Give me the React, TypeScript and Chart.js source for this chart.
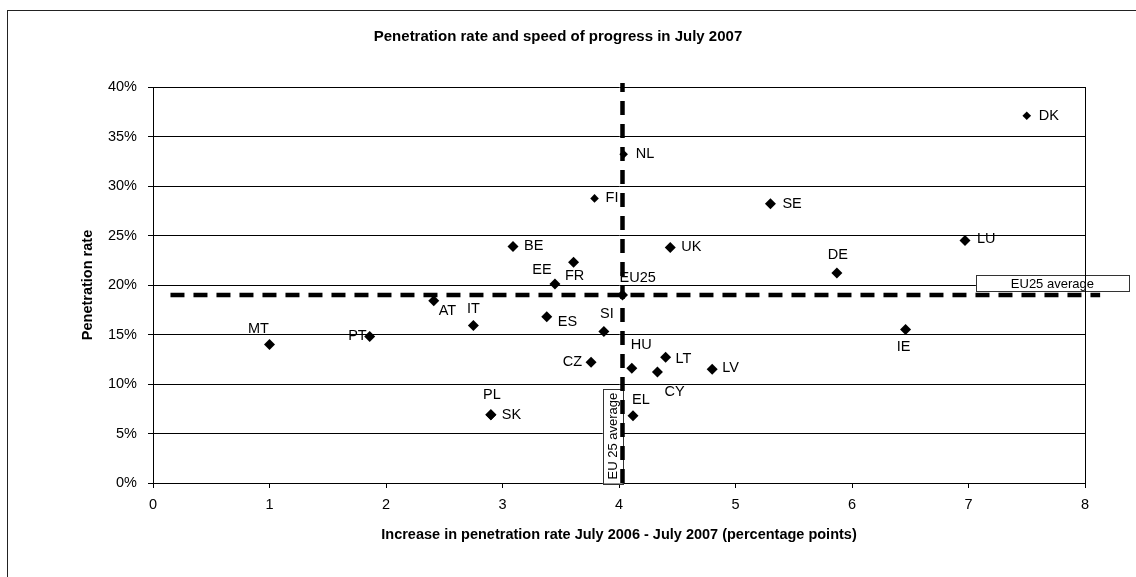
import { useEffect, useRef } from 'react';
import { Chart, registerables } from 'chart.js';

Chart.register(...registerables);

// ---- data ----
const countries = ['DK', 'NL', 'FI', 'SE', 'BE', 'UK', 'LU', 'DE', 'FR', 'EE', 'EU25', 'AT', 'IT', 'ES', 'SI', 'MT', 'PT', 'CZ', 'HU', 'LT', 'CY', 'LV', 'IE', 'PL', 'SK', 'EL'];
const increase = [7.5, 4.04, 3.79, 5.3, 3.09, 4.44, 6.97, 5.87, 3.61, 3.45, 4.03, 2.41, 2.75, 3.38, 3.87, 1.0, 1.86, 3.76, 4.11, 4.4, 4.33, 4.8, 6.46, 2.9, 2.9, 4.12];
const penetration = [37.1, 33.2, 28.75, 28.2, 23.9, 23.8, 24.5, 21.2, 22.3, 20.1, 19.0, 18.4, 15.9, 16.8, 15.3, 14.0, 14.8, 12.2, 11.6, 12.7, 11.2, 11.5, 15.5, 6.9, 6.9, 6.8];

const eu25Increase = 4.03;
const eu25Penetration = 19.0;
const avgLineSpanX = [0.15, 8.13];
const avgLineSpanY = [0, 40.4];

const xTicks = [0, 1, 2, 3, 4, 5, 6, 7, 8];
const yTicks = [0, 5, 10, 15, 20, 25, 30, 35, 40];

const titleText = 'Penetration rate and speed of progress in July 2007';
const xTitle = 'Increase in penetration rate July 2006 - July 2007 (percentage points)';
const yTitle = 'Penetration rate';
const avgLabelH = 'EU25 average';
const avgLabelV = 'EU 25 average';
const avgLabelHAnchor = [7.72, 20.16];
const avgLabelVAnchor = [3.946, 4.74];

// ---- styles ----
const FONT = "'Liberation Sans', Arial, sans-serif";
const smallMarkers = ['DK', 'NL', 'FI'];
// label placement: [dx, dy, align]
const labelPlacement: Record<string, [number, number, CanvasTextAlign]> = {
  DK: [12, 0, 'left'], NL: [12, 0, 'left'], FI: [11, 0, 'left'], SE: [12, 0, 'left'],
  BE: [11, 0, 'left'], UK: [11, 0, 'left'], LU: [12, -1, 'left'], DE: [1, -18, 'center'],
  FR: [1, 14, 'center'], EE: [-13, -14, 'center'], EU25: [-3, -17, 'left'], AT: [5, 10, 'left'],
  IT: [0, -17, 'center'], ES: [11, 5, 'left'], SI: [3, -18, 'center'], MT: [-11, -15, 'center'],
  PT: [-3, 0, 'right'], CZ: [-9, 0, 'right'], HU: [-1, -23, 'left'], LT: [10, 2, 'left'],
  CY: [7, 20, 'left'], LV: [10, -1, 'left'], IE: [-2, 17, 'center'], PL: [1, -20, 'center'],
  SK: [11, 0, 'left'], EL: [-1, -16, 'left'],
};

const pointLabels = {
  id: 'pointLabels',
  afterDatasetsDraw(chart: any) {
    const ctx = chart.ctx;
    const meta = chart.getDatasetMeta(0);
    ctx.save();
    ctx.font = `14.5px ${FONT}`;
    ctx.fillStyle = '#000';
    ctx.textBaseline = 'middle';
    meta.data.forEach((pt: any, i: number) => {
      const code = countries[i];
      const [dx, dy, align] = labelPlacement[code] || [10, 0, 'left'];
      ctx.textAlign = align;
      ctx.fillText(code, pt.x + dx, pt.y + dy);
    });
    ctx.restore();
  },
};

const avgBoxes = {
  id: 'avgBoxes',
  beforeDatasetsDraw(chart: any) {
    const ctx = chart.ctx;
    const xs = chart.scales.x;
    const ys = chart.scales.y;
    ctx.save();
    ctx.font = `13px ${FONT}`;
    ctx.fillStyle = '#000';
    ctx.textAlign = 'center';
    ctx.textBaseline = 'middle';
    ctx.lineWidth = 1;
    ctx.strokeStyle = '#333';
    // horizontal box
    const hx = xs.getPixelForValue(avgLabelHAnchor[0]);
    const hy = ys.getPixelForValue(avgLabelHAnchor[1]);
    const hw = 153, hh = 16;
    ctx.fillStyle = '#fff';
    ctx.fillRect(hx - hw / 2, hy - hh / 2, hw, hh);
    ctx.strokeRect(Math.round(hx - hw / 2) + 0.5, Math.round(hy - hh / 2) + 0.5, hw, hh);
    ctx.fillStyle = '#000';
    ctx.fillText(avgLabelH, hx, hy + 1.5);
    // vertical box
    const vx = xs.getPixelForValue(avgLabelVAnchor[0]);
    const vy = ys.getPixelForValue(avgLabelVAnchor[1]);
    const vw = 20, vh = 95;
    ctx.fillStyle = '#fff';
    ctx.fillRect(vx - vw / 2, vy - vh / 2, vw, vh);
    ctx.strokeRect(Math.round(vx - vw / 2) + 0.5, Math.round(vy - vh / 2) + 0.5, vw, vh);
    ctx.fillStyle = '#000';
    ctx.translate(vx, vy);
    ctx.rotate(-Math.PI / 2);
    ctx.fillText(avgLabelV, 0, 1);
    ctx.restore();
  },
};

const areaBorder = {
  id: 'areaBorder',
  afterDraw(chart: any) {
    const { right, top, bottom } = chart.chartArea;
    const ctx = chart.ctx;
    ctx.save();
    ctx.strokeStyle = '#000';
    ctx.lineWidth = 1;
    ctx.beginPath();
    ctx.moveTo(Math.round(right) + 0.5, top);
    ctx.lineTo(Math.round(right) + 0.5, bottom);
    ctx.stroke();
    ctx.restore();
  },
};

export default function App() {
  const ref = useRef<HTMLCanvasElement>(null);
  useEffect(() => {
    if (!ref.current) return;
    const chart = new Chart(ref.current, {
      type: 'scatter',
      data: {
        datasets: [
          {
            label: 'Countries',
            data: countries.map((_, i) => ({ x: increase[i], y: penetration[i] })),
            pointStyle: 'rectRot',
            pointRadius: (c: any) => (smallMarkers.includes(countries[c.dataIndex]) ? 4.3 : 5.5),
            backgroundColor: '#000',
            borderColor: '#000',
            borderWidth: 0,
            order: 0,
          } as any,
          {
            label: 'EU25 average (penetration)',
            data: avgLineSpanX.map((x) => ({ x, y: eu25Penetration })),
            showLine: true,
            borderColor: '#000',
            borderWidth: 4.5,
            borderDash: [14, 9],
            pointRadius: 0,
            clip: false,
            order: 1,
          } as any,
          {
            label: 'EU25 average (increase)',
            data: avgLineSpanY.map((y) => ({ x: eu25Increase, y })),
            showLine: true,
            borderColor: '#000',
            borderWidth: 4.5,
            borderDash: [14, 9],
            pointRadius: 0,
            clip: false,
            order: 1,
          } as any,
        ],
      },
      options: {
        animation: false,
        responsive: false,
        devicePixelRatio: 1,
        layout: { padding: { left: 31, right: 51, top: 0, bottom: 0 } },
        plugins: {
          legend: { display: false },
          tooltip: { enabled: false },
          title: {
            display: true,
            text: titleText,
            color: '#000',
            font: { family: FONT, size: 15, weight: 'bold' },
            padding: { top: 27.5, bottom: 41.5 },
          },
        },
        scales: {
          x: {
            type: 'linear',
            min: 0,
            max: 8,
            afterFit: (s: any) => { s.height = 94; },
            afterBuildTicks: (s: any) => { s.ticks = xTicks.map((v) => ({ value: v })); },
            ticks: { color: '#000', font: { family: FONT, size: 14.5 }, padding: 8 },
            grid: { display: true, drawOnChartArea: false, drawTicks: true, tickLength: 5, color: '#000' },
            border: { display: true, color: '#000', width: 1 },
            title: {
              display: true,
              text: xTitle,
              color: '#000',
              font: { family: FONT, size: 14.5, weight: 'bold' },
              padding: { top: 0, bottom: 33 },
            },
          },
          y: {
            type: 'linear',
            min: 0,
            max: 40,
            afterFit: (s: any) => { s.width = 122; },
            afterBuildTicks: (s: any) => { s.ticks = yTicks.map((v) => ({ value: v })); },
            ticks: {
              color: '#000',
              font: { family: FONT, size: 14.5 },
              padding: 11,
              callback: (v: any) => `${v}%`,
            },
            grid: { color: '#000', lineWidth: 1, tickLength: 5 },
            border: { display: true, color: '#000', width: 1 },
            title: {
              display: true,
              text: yTitle,
              color: '#000',
              font: { family: FONT, size: 14.5, weight: 'bold' },
              padding: { top: 48, bottom: 0 },
            },
          },
        },
      } as any,
      plugins: [avgBoxes, pointLabels, areaBorder],
    });
    return () => chart.destroy();
  }, []);

  return (
    <div style={{ position: 'fixed', left: 0, top: 0, width: 1136, height: 577, overflow: 'hidden', background: '#fff' }}>
      <div
        style={{
          position: 'absolute',
          left: 7,
          top: 10,
          right: 0,
          bottom: 0,
          borderLeft: '1px solid #222',
          borderTop: '1px solid #222',
        }}
      />
      <canvas ref={ref} width={1136} height={577} style={{ position: 'absolute', left: 0, top: 0, width: 1136, height: 577 }} />
    </div>
  );
}
